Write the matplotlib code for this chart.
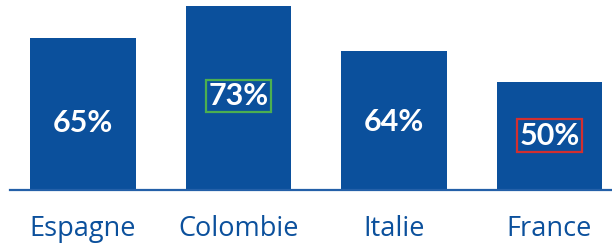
import matplotlib.pyplot as plt

countries = ["Espagne", "Colombie", "Italie", "France"]
value_labels = ["65%", "73%", "64%", "50%"]
# bar heights as drawn in the picture (share of the plot height)
bar_heights = [80, 97, 73, 57]
box_colors = [None, "#4caf50", None, "#d32f2f"]

BLUE = "#0b509c"
# small vertical nudges of the value labels (in data units)
label_nudge = [-4.5, 1.0, -0.5, 0.0]

fig = plt.figure(figsize=(6.12, 2.47), dpi=100)
ax = fig.add_axes([10 / 612, 57 / 247, 602 / 612, 190 / 247])

x = range(len(countries))
bars = ax.bar(x, bar_heights, width=0.68, color=BLUE, zorder=2)

ax.set_xlim(-0.469, 3.402)
ax.set_ylim(0, 100)

for bar, lab, bc, dy in zip(bars, value_labels, box_colors, label_nudge):
    cx = bar.get_x() + bar.get_width() / 2
    cy = bar.get_height() / 2 + dy
    kw = {}
    if bc:
        kw["bbox"] = dict(boxstyle="square,pad=0.08", fc="none", ec=bc, lw=1.6)
    ax.text(cx, cy, lab, ha="center", va="center", color="white",
            fontsize=22, fontweight="bold", family="Lato", zorder=3, **kw)

for spine in ["top", "right", "left"]:
    ax.spines[spine].set_visible(False)
ax.spines["bottom"].set_color("#2460a8")
ax.spines["bottom"].set_linewidth(1.6)
ax.set_yticks([])
ax.set_xticks(list(x))
ax.set_xticklabels(countries, fontsize=19.5, color=BLUE, family="Open Sans")
ax.tick_params(axis="x", length=0, pad=18)

fig.savefig("out.png", dpi=100)
